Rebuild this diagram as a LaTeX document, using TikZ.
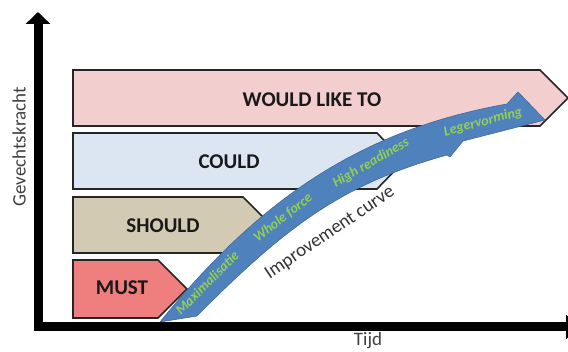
\documentclass[tikz,border=0pt]{standalone}
\usepackage{fontspec}
\setmainfont{Carlito}
\usepackage{tikz}
\usetikzlibrary{arrows.meta}

\definecolor{wouldpink}{HTML}{F2CECE}
\definecolor{couldblue}{HTML}{DCE6F2}
\definecolor{shouldtan}{HTML}{D3CAB3}
\definecolor{mustred}{HTML}{EF7E7E}
\definecolor{curveblue}{HTML}{4F81BD}
\definecolor{curveedge}{HTML}{3C6A9E}
\definecolor{labelgreen}{HTML}{92D050}
\definecolor{axisgray}{HTML}{404040}

\begin{document}
\begin{tikzpicture}[
				x=1pt, y=-1pt,
				line join=round,
				box/.style={draw=black!85, line width=1.6pt, line join=miter},
				boxlabel/.style={font=\fontsize{21}{24}\selectfont\bfseries, text=black!90},
				curvelabel/.style={font=\fontsize{14}{16}\selectfont\bfseries\itshape, text=labelgreen, inner sep=0pt},
				axislabel/.style={font=\fontsize{19}{22}\selectfont, text=axisgray}
				]
				\useasboundingbox (0,0) rectangle (568,352);
				
				% Axes
				\draw[line width=9pt, line join=miter, {Triangle[length=12pt,width=24pt]}-{Triangle[length=12pt,width=24pt]}] (38,12) -- (38,327) -- (578,327);
				
				% Priority bands
				\draw[box, fill=wouldpink] (73,70) -- (540,70) -- (568,98) -- (540,126) -- (73,126) -- cycle;
				\draw[box, fill=couldblue] (73,133) -- (377,133) -- (404,161) -- (377,189) -- (73,189) -- cycle;
				\draw[box, fill=shouldtan] (73,197) -- (243,197) -- (271,225) -- (243,253) -- (73,253) -- cycle;
				\draw[box, fill=mustred] (73,260) -- (158,260) -- (187,289) -- (158,318) -- (73,318) -- cycle;
				
				% Band labels
				\node[boxlabel] (would) at (312,100) {WOULD LIKE TO};
				\node[boxlabel] (could) at (229,162) {COULD};
				\node[boxlabel] (should) at (163,226) {SHOULD};
				\node[boxlabel] (must) at (122,288) {MUST};
				
				% Improvement curve
				\filldraw[fill=curveblue, draw=curveedge, line width=0.6pt] (160,322) .. controls (259,200) and (360,130) .. (507,104) -- (518,92) -- (545,120) -- (463,141) -- (450,157) -- (447,155) .. controls (347,183) and (291,221) .. (197,316) -- cycle;
				\node[curvelabel, rotate=45] (maximal) at (207,283) {Maximalisatie};
				\node[curvelabel, rotate=38] (whole) at (283,218) {Whole force};
				\node[curvelabel, rotate=30] (ready) at (371,163) {High readiness};
				\node[curvelabel, rotate=15] (leger) at (483,122) {Legervorming};
				\node[axislabel, rotate=34, text=black!80] (improve) at (330,233) {Improvement curve};
				
				% Axis labels
				\node[axislabel, rotate=90] (kracht) at (19,147) {Gevechtskracht};
				\node[axislabel, anchor=base] (tijd) at (368,346) {Tijd};
			\end{tikzpicture}
\end{document}
